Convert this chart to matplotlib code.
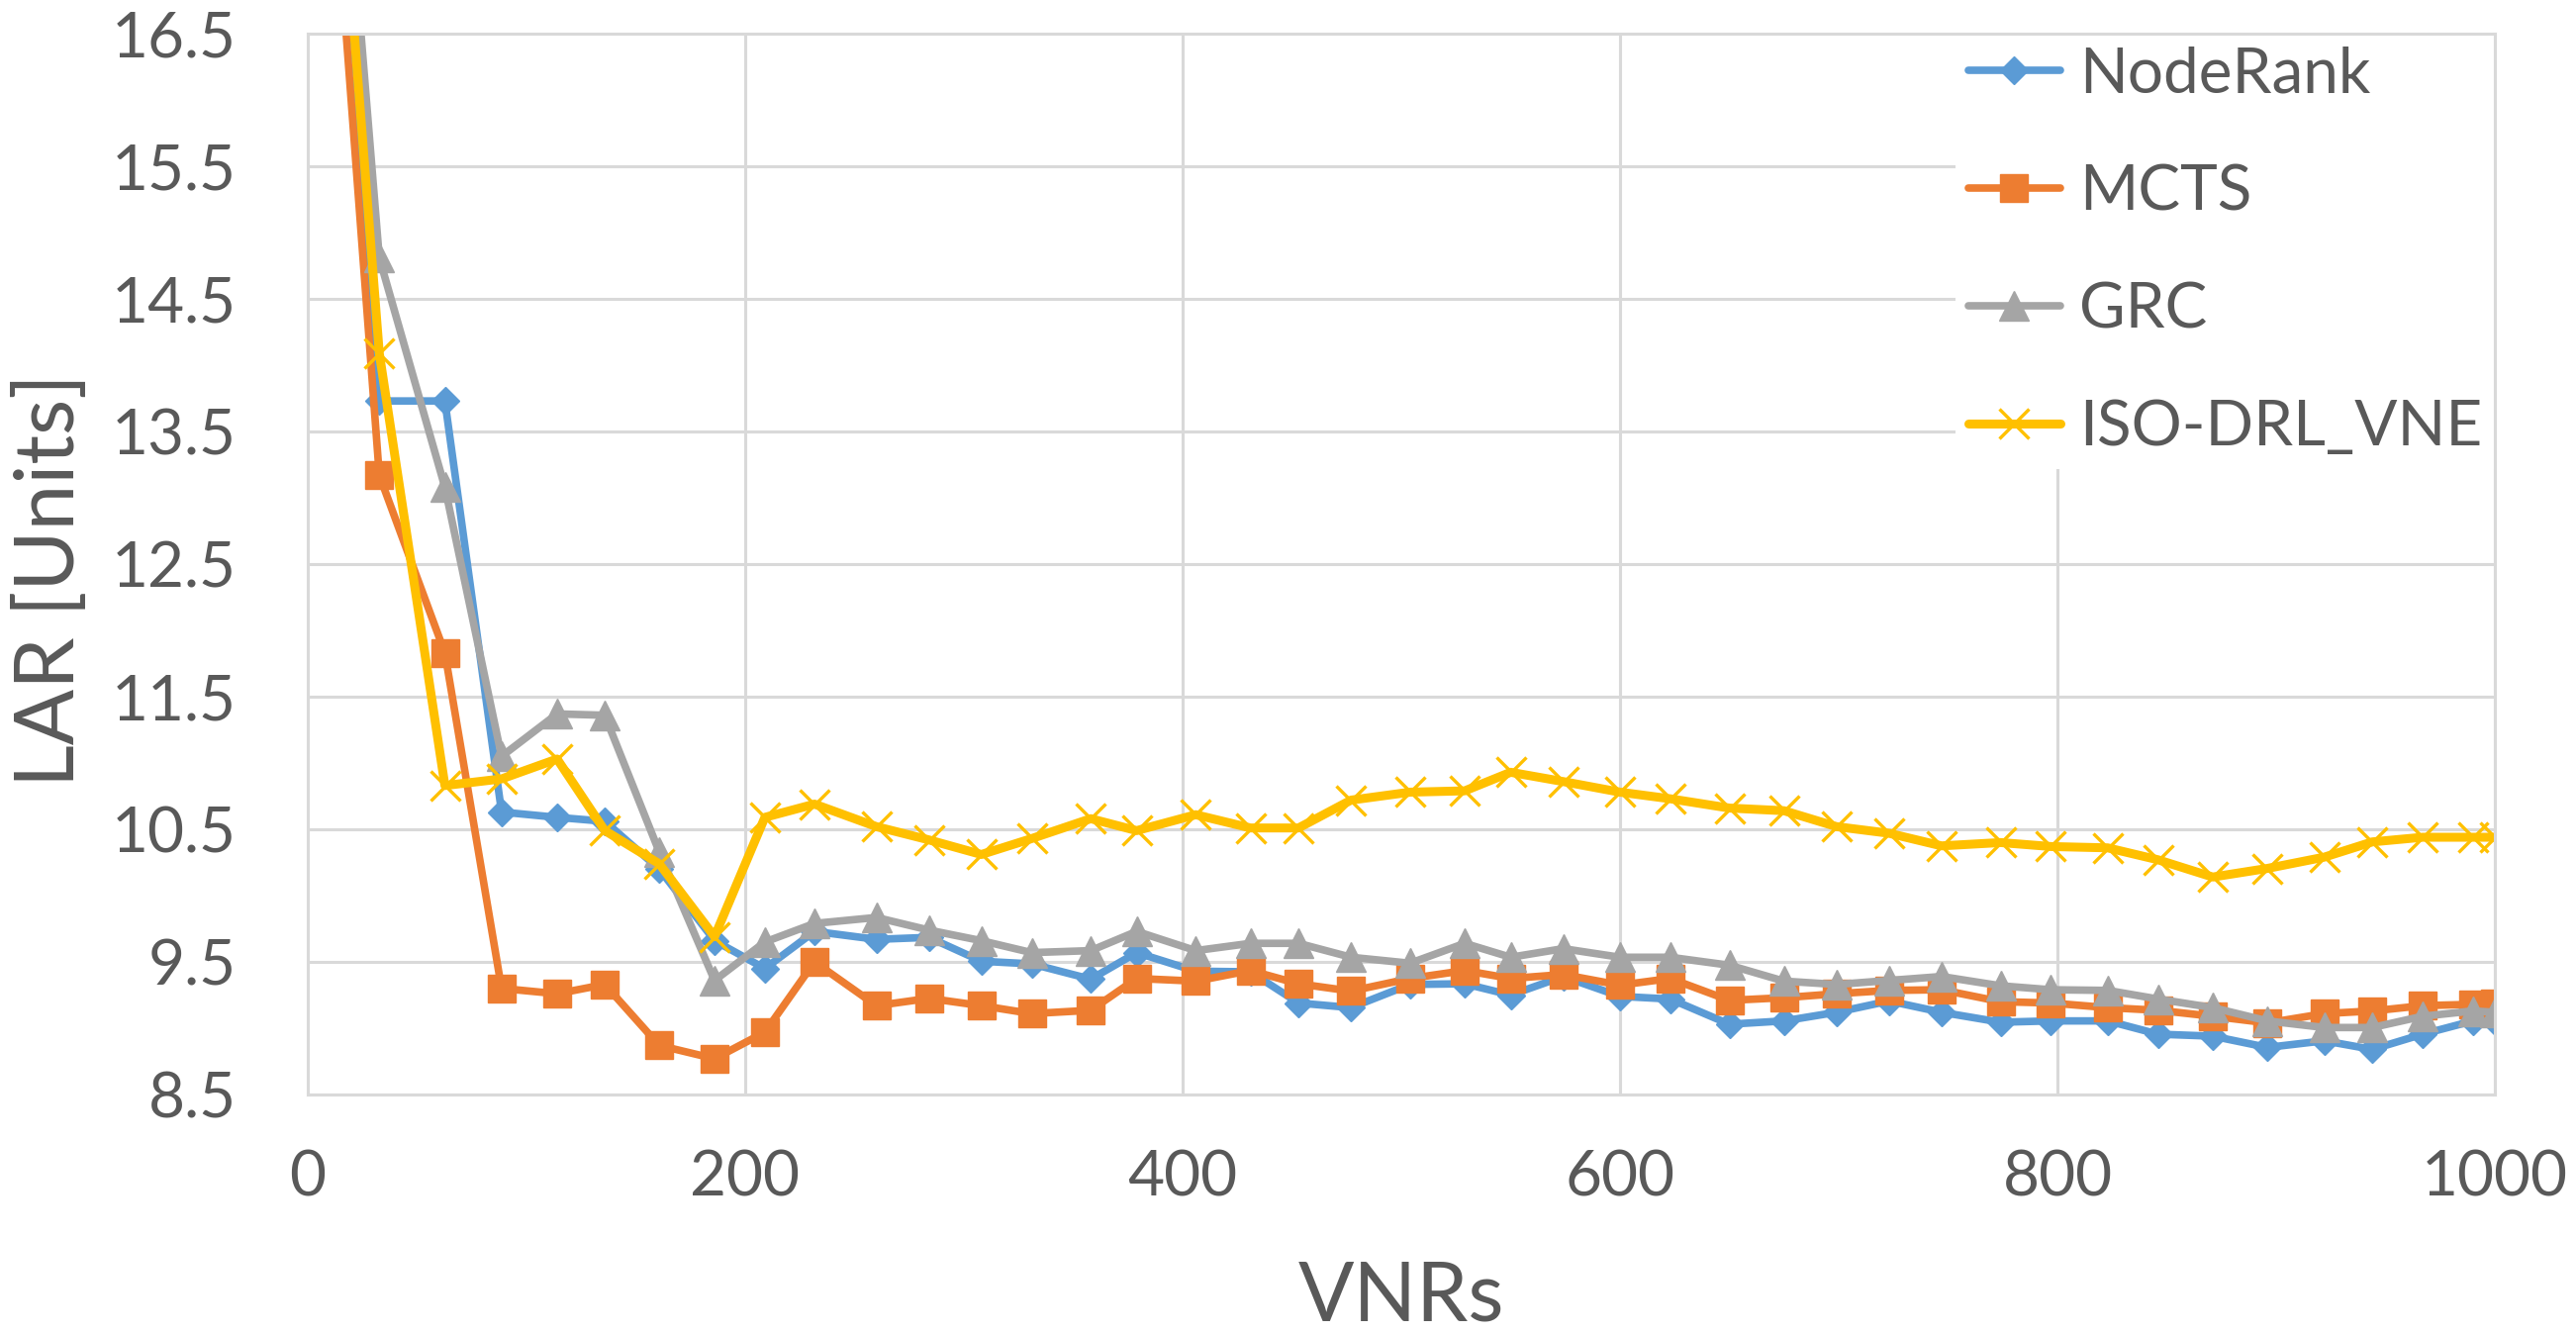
import numpy as np
import matplotlib
matplotlib.use("Agg")
from matplotlib import pyplot as plt

# VNR count at each sample
vnrs = [8, 32.7, 62.7, 88.6, 114, 135.8, 160.7, 186, 209, 231.7,
        260, 284, 308, 331, 358, 379, 406, 431, 453, 477,
        504, 529, 550, 574, 600, 623, 650, 675, 699, 723,
        747, 774, 797, 823, 846, 871, 896, 922, 944, 967,
        990, 1000]

noderank = [19.5, 13.73, 13.73, 10.63, 10.59, 10.56, 10.20, 9.66, 9.45, 9.73,
            9.67, 9.685, 9.505, 9.485, 9.37, 9.57, 9.43, 9.425, 9.19, 9.155,
            9.33, 9.335, 9.25, 9.39, 9.24, 9.22, 9.03, 9.055, 9.12, 9.205,
            9.12, 9.045, 9.055, 9.055, 8.955, 8.94, 8.855, 8.905, 8.84, 8.955,
            9.055, 9.055]

mcts = [18.6, 13.17, 11.83, 9.30, 9.26, 9.33, 8.87, 8.77, 8.97, 9.50,
        9.17, 9.225, 9.17, 9.11, 9.135, 9.375, 9.355, 9.435, 9.335, 9.28,
        9.375, 9.435, 9.375, 9.405, 9.325, 9.375, 9.21, 9.23, 9.26, 9.285,
        9.29, 9.20, 9.19, 9.155, 9.135, 9.09, 9.04, 9.11, 9.13, 9.17,
        9.18, 9.19]

grc = [19.8, 14.81, 13.08, 11.05, 11.37, 11.36, 10.33, 9.36, 9.65, 9.79,
       9.835, 9.74, 9.66, 9.57, 9.585, 9.73, 9.585, 9.64, 9.64, 9.535,
       9.49, 9.64, 9.535, 9.60, 9.535, 9.535, 9.475, 9.355, 9.33, 9.36,
       9.39, 9.32, 9.29, 9.285, 9.22, 9.155, 9.055, 9.005, 9.005, 9.09,
       9.13, 9.12]

iso_drl = [19.3, 14.09, 10.83, 10.88, 11.03, 10.49, 10.24, 9.69, 10.59, 10.69,
           10.52, 10.42, 10.31, 10.43, 10.58, 10.49, 10.61, 10.51, 10.51, 10.72,
           10.78, 10.79, 10.93, 10.86, 10.78, 10.73, 10.66, 10.64, 10.52, 10.47,
           10.375, 10.40, 10.37, 10.36, 10.27, 10.14, 10.205, 10.29, 10.405, 10.44,
           10.44, 10.44]

labels = ["NodeRank", "MCTS", "GRC", "ISO-DRL_VNE"]
y_ticks = [8.5, 9.5, 10.5, 11.5, 12.5, 13.5, 14.5, 15.5, 16.5]
x_ticks = [0, 200, 400, 600, 800, 1000]

txt = "#595959"
grid_c = "#D9D9D9"
plt.rcParams['font.family'] = ['Lato', 'DejaVu Sans']

fig = plt.figure(figsize=(26.03, 13.47), dpi=100)
ax = fig.add_axes([311 / 2603, 1 - 1106 / 1347, 2210 / 2603, 1072 / 1347])

styles = [
    dict(color="#5B9BD5", marker="D", markersize=14.5, linewidth=5.5),
    dict(color="#ED7D31", marker="s", markersize=20, linewidth=5.5),
    dict(color="#A5A5A5", marker="^", markersize=22, linewidth=5.5),
    dict(color="#FFC000", marker="x", markersize=21, markeredgewidth=2.4, linewidth=6.5),
]
series = [noderank, mcts, grc, iso_drl]
for vals, lab, st in zip(series, labels, styles):
    st = dict(st)
    st.setdefault("markeredgewidth", 1.0)
    ax.plot(vnrs, vals, label=lab, markeredgecolor=st["color"],
            markerfacecolor=st["color"], solid_joinstyle="round",
            solid_capstyle="round", **st)

ax.set_xlim(0, 1000)
ax.set_ylim(8.5, 16.5)
ax.set_xticks(x_ticks)
ax.set_yticks(y_ticks)
ax.set_yticklabels([f"{v:.1f}" for v in y_ticks])
ax.set_axisbelow(True)
ax.grid(True, color=grid_c, linewidth=2.2)
for sp in ax.spines.values():
    sp.set_color(grid_c)
    sp.set_linewidth(2.2)
ax.tick_params(axis="both", length=0, labelsize=46, labelcolor=txt)
ax.tick_params(axis="y", pad=52)
ax.tick_params(axis="x", pad=40)

ax.set_ylabel("LAR [Units]", fontsize=60, color=txt)
ax.yaxis.label.set_va("baseline")
ax.yaxis.set_label_coords(-0.1068, 0.485)
ax.set_xlabel("VNRs", fontsize=60, color=txt)
ax.xaxis.label.set_va("baseline")
ax.xaxis.set_label_coords(0.5, -0.213)

leg = ax.legend(loc="upper right", bbox_to_anchor=(1.0, 1.0), fontsize=46,
                frameon=True, fancybox=False, framealpha=1, facecolor="white",
                edgecolor="none", borderaxespad=0, borderpad=0.2,
                labelspacing=0.95, handlelength=1.45, handletextpad=0.3,
                numpoints=1, labelcolor=txt)
leg.set_zorder(1.6)

fig.savefig("out.png", dpi=100)
